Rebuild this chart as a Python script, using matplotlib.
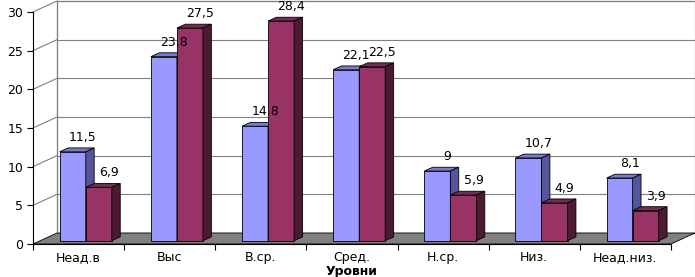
import matplotlib
matplotlib.use("Agg")
import matplotlib.pyplot as plt
from matplotlib.patches import Polygon
import numpy as np

# data
categories = ["Неад.в", "Выс", "В.ср.", "Сред.", "Н.ср.", "Низ.", "Неад.низ."]
series_a = [11.5, 23.8, 14.8, 22.1, 9, 10.7, 8.1]
series_b = [6.9, 27.5, 28.4, 22.5, 5.9, 4.9, 3.9]
yticks = [0, 5, 10, 15, 20, 25, 30]

# face colours: front, top, side
col_a = ("#9999FF", "#7A7ACC", "#555599")
col_b = ("#993366", "#7A2952", "#4D1A33")

W, H = 695, 277
fig = plt.figure(figsize=(W / 100, H / 100), dpi=100)
# front axis: x 33..671 px, y 244..12 px
ax = fig.add_axes([33 / W, (H - 244) / H, (671 - 33) / W, (244 - 12) / H])
n = len(categories)
ax.set_xlim(0, n)
ax.set_ylim(0, 30)

# depth offset of the back wall, pixels -> data
DX = 24 * n / (671 - 33)
DY = 11 * 30 / (244 - 12)
d0, d1 = 0.3, 0.65   # bars sit between these depth fractions
dd = d1 - d0
bw = 1 / 3.5         # excel gap width 150

# side wall + back wall
ax.add_patch(Polygon([(0, 0), (DX, DY), (DX, 30 + DY), (0, 30)], closed=True,
                     fc="white", ec="none", zorder=0.2, clip_on=False))
ax.add_patch(Polygon([(DX, DY), (n + DX, DY), (n + DX, 30 + DY), (DX, 30 + DY)],
                     closed=True, fc="white", ec="black", lw=0.8, zorder=0.2, clip_on=False))
for t in yticks[1:]:
    ax.plot([DX, n + DX], [t + DY, t + DY], color="#808080", lw=0.8, zorder=0.3, clip_on=False)
    ax.plot([0, DX], [t, t + DY], color="#808080", lw=0.8, zorder=0.3, clip_on=False)
ax.plot([DX, DX], [DY, 30 + DY], color="#808080", lw=0.8, zorder=0.3, clip_on=False)

# floor
ax.add_patch(Polygon([(0, 0), (n, 0), (n + DX, DY), (DX, DY)], closed=True,
                     fc="#808080", ec="black", lw=0.6, zorder=0.5, clip_on=False))


def bar3d(xl, v, cols, z):
    b = d0 * DY
    x = xl + d0 * DX
    top = v + b
    ax.bar(x, v, bottom=b, width=bw, align="edge", color=cols[0],
           edgecolor="black", linewidth=0.6, zorder=z)
    ax.add_patch(Polygon([(x, top), (x + bw, top), (x + bw + dd * DX, top + dd * DY),
                          (x + dd * DX, top + dd * DY)], closed=True, fc=cols[1],
                         ec="black", lw=0.6, zorder=z, clip_on=False))
    ax.add_patch(Polygon([(x + bw, b), (x + bw, top), (x + bw + dd * DX, top + dd * DY),
                          (x + bw + dd * DX, b + dd * DY)], closed=True, fc=cols[2],
                         ec="black", lw=0.6, zorder=z, clip_on=False))
    lab = f"{v:g}".replace(".", ",")
    ax.annotate(lab, (x + bw / 2 + dd * DX + 0.02, top + dd * DY), xytext=(0, 3),
                textcoords="offset points", ha="center", va="bottom",
                fontsize=9, zorder=10, annotation_clip=False)


z = 2
for i in range(n):
    x0 = i + 0.5 - bw
    bar3d(x0, series_a[i], col_a, z)
    bar3d(x0 + bw, series_b[i], col_b, z + 1)
    z += 2

for s in ["top", "right"]:
    ax.spines[s].set_visible(False)
for s in ["left", "bottom"]:
    ax.spines[s].set_color("black")
    ax.spines[s].set_linewidth(0.8)
    ax.spines[s].set_zorder(1)

ax.set_yticks(yticks)
ax.set_yticklabels([str(t) for t in yticks], fontsize=9)
ax.tick_params(axis="y", length=4, width=0.8, pad=3)
ax.set_xticks(np.arange(n + 1))
ax.set_xticklabels([])
ax.tick_params(axis="x", which="major", length=4, width=0.8)
ax.set_xticks(np.arange(n) + 0.5, minor=True)
ax.set_xticklabels(categories, minor=True, fontsize=9)
ax.tick_params(axis="x", which="minor", length=0, pad=5)
ax.set_xlabel("Уровни", fontsize=9, fontweight="bold", labelpad=1)
ax.patch.set_visible(False)

fig.savefig("out.png", dpi=100)
